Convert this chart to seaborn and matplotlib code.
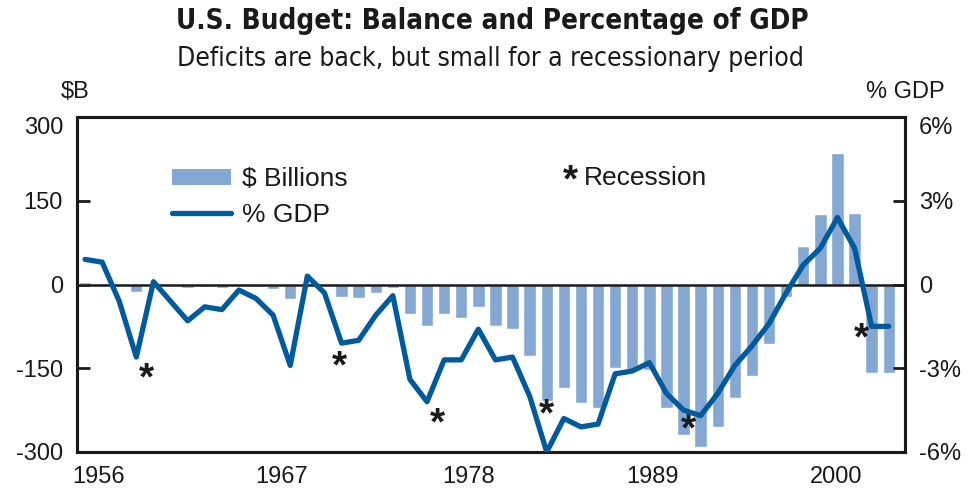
import numpy as np
import pandas as pd
import matplotlib
matplotlib.use("Agg")
import matplotlib.pyplot as plt
from matplotlib.patches import Patch
from matplotlib.lines import Line2D
import seaborn as sns

# ---- data ----
years = list(range(1956, 2004))
balance_b = [3.9, 3.4, -2.8, -12.8, 0.3, -3.3, -7.1, -4.8, -5.9, -1.4,
             -3.7, -8.6, -25.2, 3.2, -2.8, -23.0, -23.4, -14.9, -6.1, -53.2,
             -73.7, -53.7, -59.2, -40.7, -73.8, -79.0, -128.0, -207.8, -185.4, -212.3,
             -221.2, -149.7, -155.2, -152.6, -221.0, -269.2, -290.3, -255.1, -203.2, -164.0,
             -107.4, -21.9, 69.3, 125.6, 236.2, 127.3, -157.8, -158.0]
pct_gdp = [0.9, 0.8, -0.6, -2.6, 0.1, -0.6, -1.3, -0.8, -0.9, -0.2,
           -0.5, -1.1, -2.9, 0.3, -0.3, -2.1, -2.0, -1.1, -0.4, -3.4,
           -4.2, -2.7, -2.7, -1.6, -2.7, -2.6, -4.0, -6.0, -4.8, -5.1,
           -5.0, -3.2, -3.1, -2.8, -3.9, -4.5, -4.7, -3.9, -2.9, -2.2,
           -1.4, -0.3, 0.7, 1.3, 2.4, 1.3, -1.5, -1.5]
recession_x = [1959.6, 1970.85, 1976.6, 1983.0, 1991.3, 2001.4]
recession_y = [-171, -149, -251, -235, -262, -99]

left_ticks = [300, 150, 0, -150, -300]
left_labels = ["300", "150", "0", "-150", "-300"]
right_ticks = [6, 3, 0, -3, -6]
right_labels = ["6%", "3%", "0", "-3%", "-6%"]
x_tick_labels = ["1956", "1967", "1978", "1989", "2000"]
x_tick_pos = [1956.8, 1967.5, 1978.4, 1989.2, 1999.9]

title = "U.S. Budget: Balance and Percentage of GDP"
subtitle = "Deficits are back, but small for a recessionary period"

BAR = "#85A8D3"
LINE = "#005A9C"
INK = "#1a1a1a"

sns.set_theme(style="white")
plt.rcParams["font.family"] = ["Liberation Sans", "DejaVu Sans"]

df = pd.DataFrame({"year": years, "balance": balance_b, "pct": pct_gdp})

fig = plt.figure(figsize=(9.79, 4.91), dpi=100)
ax = fig.add_axes([77 / 979, 1 - 452 / 491, (905 - 77) / 979, (452 - 117) / 491])

sns.barplot(data=df, x="year", y="balance", ax=ax, color=BAR, saturation=1,
            width=0.72, native_scale=True, zorder=2)
ax.axhline(0, color=INK, lw=1.8, zorder=3)

ax2 = ax.twinx()
sns.lineplot(data=df, x="year", y="pct", ax=ax2, color=LINE, lw=3.8,
             legend=False, zorder=4)

ax.set_xlim(1955.53, 2003.95)
ax.set_ylim(-300, 300)
ax2.set_ylim(-6, 6)

ax.set_yticks(left_ticks)
ax.set_yticklabels(left_labels)
ax2.set_yticks(right_ticks)
ax2.set_yticklabels(right_labels)
ax.set_xticks(x_tick_pos)
ax.set_xticklabels(x_tick_labels)
for a in (ax, ax2):
    a.set_xlabel("")
    a.set_ylabel("")
    for s in a.spines.values():
        s.set_linewidth(2.2)
        s.set_color(INK)

ax.tick_params(axis="y", direction="in", length=9, width=2, pad=10,
               labelsize=17, colors=INK, left=True, right=False)
ax.tick_params(axis="x", length=0, pad=10, labelsize=17, colors=INK)
ax2.tick_params(axis="y", direction="in", length=9, width=2, pad=10,
                labelsize=17, colors=INK, right=True, left=False)
# top label sits slightly below the frame corner in the reference
ax.get_yticklabels()[0].set_va("top")
ax2.get_yticklabels()[0].set_va("top")

for x, y in zip(recession_x, recession_y):
    ax.text(x, y, "*", ha="center", va="center", fontsize=28,
            fontweight="bold", color=INK, zorder=5)

handles = [Patch(facecolor=BAR, edgecolor="none"),
           Line2D([0], [0], color=LINE, lw=3.8)]
leg = ax.legend(handles, ["\\$ Billions", "% GDP"], loc="upper left",
                bbox_to_anchor=(0.1147, 0.85), frameon=False, fontsize=19,
                handlelength=2.25, handleheight=0.55, handletextpad=0.4,
                labelspacing=0.45, borderpad=0, borderaxespad=0)
for t in leg.get_texts():
    t.set_color(INK)

fig.text(570 / 979, 1 - 181 / 491, "*", ha="center", va="center",
         fontsize=28, fontweight="bold", color=INK)
fig.text(584 / 979, 1 - 178 / 491, "Recession", ha="left", va="center",
         fontsize=19, color=INK)

fig.text(75 / 979, 1 - 92 / 491, "\\$B", ha="center", va="center",
         fontsize=17, color=INK)
fig.text(905 / 979, 1 - 92 / 491, "% GDP", ha="center", va="center",
         fontsize=17, color=INK)

fig.text(492 / 979, 1 - 21 / 491, title, ha="center", va="center",
         fontsize=20, fontweight="bold", family="DejaVu Sans",
         fontstretch="condensed", color=INK)
fig.text(490 / 979, 1 - 59 / 491, subtitle, ha="center", va="center",
         fontsize=19, family="DejaVu Sans", fontstretch="condensed",
         color=INK)

fig.savefig("out.png", dpi=100)
